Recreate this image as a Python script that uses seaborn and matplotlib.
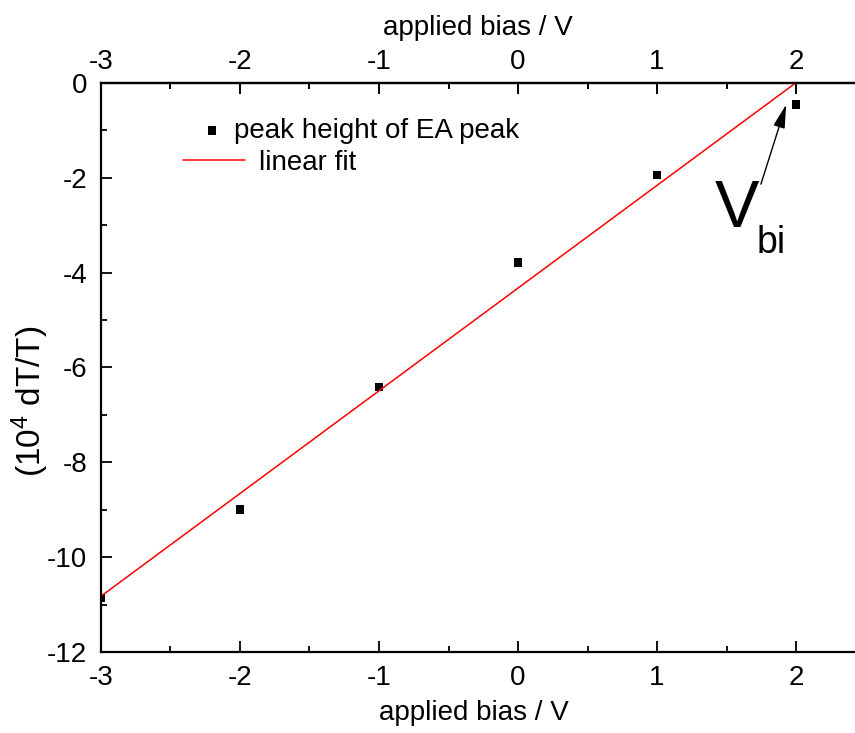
import numpy as np
import pandas as pd
import matplotlib
matplotlib.use('Agg')
import matplotlib.pyplot as plt
import seaborn as sns
from matplotlib.ticker import MultipleLocator

# values
bias = [-3, -2, -1, 0, 1, 2]
peak_height = [-10.86, -9.0, -6.41, -3.78, -1.94, -0.46]
xticks = [-3, -2, -1, 0, 1, 2]
yticks = [-12, -10, -8, -6, -4, -2, 0]

df = pd.DataFrame({'bias': bias, 'peak': peak_height})

# linear fit over the measured points
slope, intercept = np.polyfit(df['bias'], df['peak'], 1)
fit = pd.DataFrame({'bias': [min(bias), max(bias)]})
fit['peak'] = slope * fit['bias'] + intercept

sns.set_style('ticks')
plt.rcParams['font.family'] = ['Liberation Sans', 'DejaVu Sans']
plt.rcParams['mathtext.fontset'] = 'custom'
plt.rcParams['mathtext.rm'] = 'Liberation Sans'
plt.rcParams['mathtext.it'] = 'Liberation Sans'
plt.rcParams['axes.unicode_minus'] = False
plt.rcParams['text.color'] = 'black'
plt.rcParams['axes.labelcolor'] = 'black'
plt.rcParams['axes.edgecolor'] = 'black'
plt.rcParams['xtick.color'] = 'black'
plt.rcParams['ytick.color'] = 'black'

fig = plt.figure(figsize=(8.55, 7.33), dpi=100)
ax = fig.add_axes([0.1181, 0.1105, 0.8819, 0.7763])

sns.lineplot(data=fit, x='bias', y='peak', color='red', linewidth=1.1, ax=ax,
             label='linear fit', legend=False)
sns.scatterplot(data=df, x='bias', y='peak', marker='s', s=40, color='black',
                edgecolor='none', ax=ax, label='peak height of EA peak', legend=False)

ax.set_xlim(-3, 2.424)
ax.set_ylim(-12, 0)
ax.set_xticks(xticks)
ax.set_yticks(yticks)
ax.xaxis.set_minor_locator(MultipleLocator(0.5))
ax.yaxis.set_minor_locator(MultipleLocator(1))

ax.spines['right'].set_visible(False)
for s in ['left', 'bottom', 'top']:
    ax.spines[s].set_linewidth(1.6)

ax.tick_params(which='both', direction='in', width=1.3, labelsize=20,
               right=False, top=True)
ax.tick_params(which='major', length=8)
ax.tick_params(which='minor', length=4.5)
ax.tick_params(axis='x', pad=9)
ax.tick_params(axis='y', pad=10)

secax = ax.secondary_xaxis('top')
secax.set_xticks(xticks)
secax.xaxis.set_minor_locator(MultipleLocator(0.5))
secax.tick_params(which='both', direction='in', width=1.3, labelsize=20, pad=6)
secax.tick_params(which='major', length=8)
secax.tick_params(which='minor', length=4.5)
secax.spines['top'].set_linewidth(1.6)
secax.set_xlabel('applied bias / V', fontsize=20, labelpad=10)

ax.set_xlabel('applied bias / V', fontsize=20)
ax.set_ylabel(r'(10$^4$ dT/T)', fontsize=24)
ax.xaxis.set_label_coords(0.495, -0.085)
ax.yaxis.set_label_coords(-0.066, 0.44)

# legend, split in two like the original
h, l = ax.get_legend_handles_labels()
leg1 = ax.legend([h[1]], [l[1]], loc='center left', bbox_to_anchor=(0.1326, 0.9156),
                 frameon=False, fontsize=20, handlelength=0.8, handletextpad=0.4,
                 borderpad=0, borderaxespad=0)
ax.add_artist(leg1)
ax.legend([h[0]], [l[0]], loc='center left', bbox_to_anchor=(0.1088, 0.8594),
          frameon=False, fontsize=20, handlelength=2.23, handletextpad=0.5,
          borderpad=0, borderaxespad=0)

# V_bi annotation
ax.annotate('', xy=(1.935, -0.40), xytext=(1.741, -2.19),
            arrowprops=dict(arrowstyle='-|>,head_length=0.8,head_width=0.2',
                            color='black', lw=1, mutation_scale=18))
ax.text(1.417, -3.04, 'V', fontsize=48, ha='left', va='baseline')
ax.text(1.719, -3.59, 'bi', fontsize=27, ha='left', va='baseline')

plt.savefig('out.png', dpi=100)
